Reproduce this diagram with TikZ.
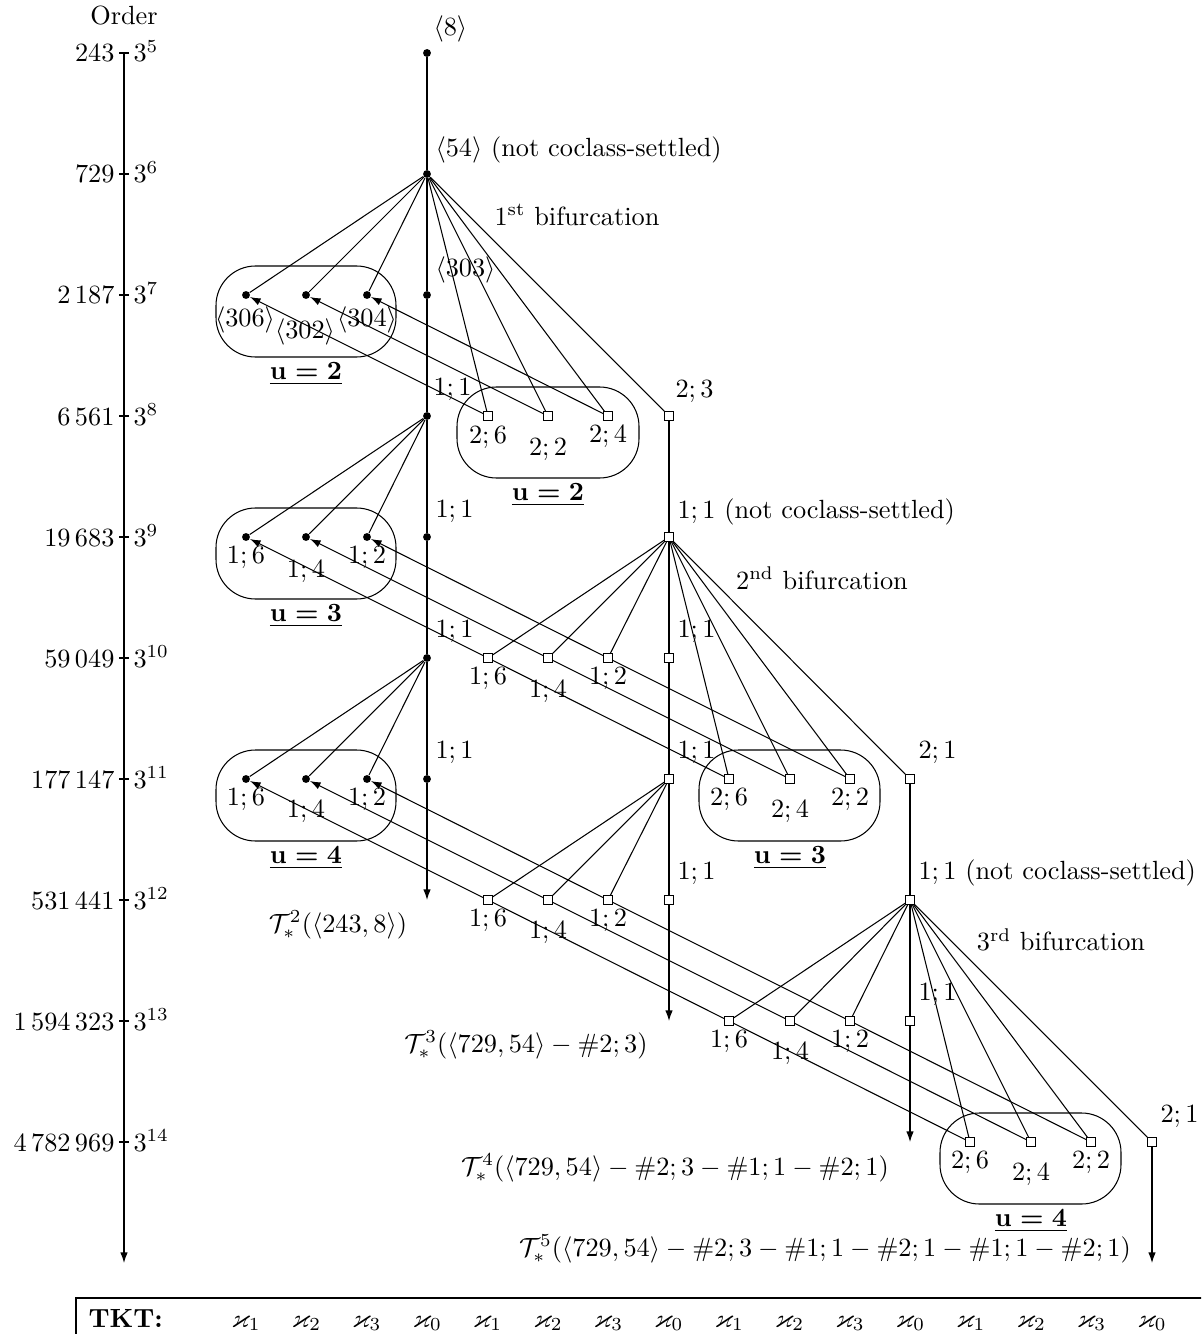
\documentclass[tikz,border=0pt]{standalone}
\usepackage{amsmath,amssymb}
\usetikzlibrary{arrows.meta}
\newcommand{\ulabel}[1]{$\underline{\boldsymbol{\mathbf{u}=\mathbf{#1}}}$}
\begin{document}
\begin{tikzpicture}[x=0.38pt,y=-0.38pt,
  dot/.style={circle,fill,inner sep=0pt,minimum size=3pt},
  sq/.style={draw,rectangle,inner sep=0pt,minimum size=3.2pt},
  arr/.style={-{Latex[length=4pt,width=2.8pt]}},
  lab/.style={anchor=west,inner sep=0pt},
  clab/.style={inner sep=0pt},
  grp/.style={draw,rounded corners=15pt},
  ax/.style={inner sep=0pt}]
\clip (0,0) rectangle (1201,1334);
% axis
\coordinate (axtop) at (124,53);
\coordinate (axbot) at (124,1263);
\draw[arr] (axtop) -- (axbot);
\node[ax] (order) at (124,16) {Order};
\foreach \k/\n in {5/243,6/729,7/2\,187,8/6\,561,9/19\,683,10/59\,049,11/177\,147,12/531\,441,13/1\,594\,323,14/4\,782\,969}{
  \pgfmathsetmacro{\yy}{53+121*(\k-5)}
  \draw (119,\yy) -- (129,\yy);
  \node[ax,anchor=base east] at (115,\yy+9) {$\n$};
  \node[ax,anchor=base west] at (133,\yy+9) {$3^{\k}$};
}
% groups
\draw[grp] (216,266) rectangle (396,357);
\draw[grp] (457,387) rectangle (639,478);
\draw[grp] (216,508) rectangle (396,599);
\draw[grp] (699,750) rectangle (880,841);
\draw[grp] (216,750) rectangle (396,841);
\draw[grp] (940,1113) rectangle (1121,1204);
% trunk
\node[dot] (t5) at (427,53) {};
\node[dot] (t6) at (427,174) {};
\node[dot] (t7) at (427,295) {};
\node[dot] (t8) at (427,416) {};
\node[dot] (t9) at (427,537) {};
\node[dot] (t10) at (427,658) {};
\node[dot] (t11) at (427,779) {};
\coordinate (t12) at (427,900);
% first tree twigs
\node[dot] (a7a) at (246,295) {};
\node[dot] (a7b) at (306,295) {};
\node[dot] (a7c) at (367,295) {};
\node[dot] (a9a) at (246,537) {};
\node[dot] (a9b) at (306,537) {};
\node[dot] (a9c) at (367,537) {};
\node[dot] (a11a) at (246,779) {};
\node[dot] (a11b) at (306,779) {};
\node[dot] (a11c) at (367,779) {};
% second tree
\node[sq] (b8a) at (488,416) {};
\node[sq] (b8b) at (548,416) {};
\node[sq] (b8c) at (608,416) {};
\node[sq] (B8) at (669,416) {};
\node[sq] (B9) at (669,537) {};
\node[sq] (b10a) at (488,658) {};
\node[sq] (b10b) at (548,658) {};
\node[sq] (b10c) at (608,658) {};
\node[sq] (B10) at (669,658) {};
\node[sq] (B11) at (669,779) {};
\node[sq] (b12a) at (488,900) {};
\node[sq] (b12b) at (548,900) {};
\node[sq] (b12c) at (608,900) {};
\node[sq] (B12) at (669,900) {};
\coordinate (B13) at (669,1021);
% third tree
\node[sq] (c11a) at (729,779) {};
\node[sq] (c11b) at (790,779) {};
\node[sq] (c11c) at (850,779) {};
\node[sq] (C11) at (910,779) {};
\node[sq] (C12) at (910,900) {};
\node[sq] (c13a) at (729,1021) {};
\node[sq] (c13b) at (790,1021) {};
\node[sq] (c13c) at (850,1021) {};
\node[sq] (C13) at (910,1021) {};
\coordinate (C14) at (910,1142);
% fourth tree
\node[sq] (d14a) at (970,1142) {};
\node[sq] (d14b) at (1031,1142) {};
\node[sq] (d14c) at (1091,1142) {};
\node[sq] (D14) at (1152,1142) {};
\coordinate (D15) at (1152,1263);
% edges
\draw (t5) -- (t6);
\foreach \c in {a7a,a7b,a7c,t7,b8a,b8b,b8c,B8} \draw (t6) -- (\c);
\draw (t7) -- (t8);
\foreach \c in {a9a,a9b,a9c,t9} \draw (t8) -- (\c);
\draw (t9) -- (t10);
\foreach \c in {a11a,a11b,a11c,t11} \draw (t10) -- (\c);
\draw[arr] (t11) -- (t12);
\draw (B8) -- (B9);
\foreach \c in {b10a,b10b,b10c,B10,c11a,c11b,c11c,C11} \draw (B9) -- (\c);
\draw (B10) -- (B11);
\foreach \c in {b12a,b12b,b12c,B12} \draw (B11) -- (\c);
\draw[arr] (B12) -- (B13);
\draw (C11) -- (C12);
\foreach \c in {c13a,c13b,c13c,C13,d14a,d14b,d14c,D14} \draw (C12) -- (\c);
\draw[arr] (C13) -- (C14);
\draw[arr] (D14) -- (D15);
% periodicity arrows
\draw[arr] (b8a) -- (a7a);
\draw[arr] (b8b) -- (a7b);
\draw[arr] (b8c) -- (a7c);
\draw[arr] (b10a) -- (a9a);
\draw[arr] (b10b) -- (a9b);
\draw[arr] (b10c) -- (a9c);
\draw (c11a) -- (b10a);
\draw (c11b) -- (b10b);
\draw (c11c) -- (b10c);
\draw[arr] (b12a) -- (a11a);
\draw[arr] (b12b) -- (a11b);
\draw[arr] (b12c) -- (a11c);
\draw (c13a) -- (b12a);
\draw (c13b) -- (b12b);
\draw (c13c) -- (b12c);
\draw (d14a) -- (c13a);
\draw (d14b) -- (c13b);
\draw (d14c) -- (c13c);
% labels
\node[lab] at (433,29) {$\langle 8\rangle$};
\node[lab] at (435,150) {$\langle 54\rangle$ (not coclass-settled)};
\node[clab] at (577,215) {1\textsuperscript{st} bifurcation};
\node[lab] at (435,270) {$\langle 303\rangle$};
\node[clab] at (245,320) {$\langle 306\rangle$};
\node[clab] at (305,332) {$\langle 302\rangle$};
\node[clab] at (367,320) {$\langle 304\rangle$};
\node[lab] at (433,390) {$1;1$};
\node[lab] at (675,392) {$2;3$};
\node[clab] at (488,438) {$2;6$};
\node[clab] at (548,450) {$2;2$};
\node[clab] at (608,437) {$2;4$};
\node[lab] at (435,512) {$1;1$};
\node[lab] at (677,512) {$1;1$ (not coclass-settled)};
\node[clab] at (246,558) {$1;6$};
\node[clab] at (306,572) {$1;4$};
\node[clab] at (367,558) {$1;2$};
\node[clab] at (822,578) {2\textsuperscript{nd} bifurcation};
\node[lab] at (435,632) {$1;1$};
\node[lab] at (677,632) {$1;1$};
\node[clab] at (488,679) {$1;6$};
\node[clab] at (548,692) {$1;4$};
\node[clab] at (608,679) {$1;2$};
\node[lab] at (435,753) {$1;1$};
\node[lab] at (677,753) {$1;1$};
\node[lab] at (918,753) {$2;1$};
\node[clab] at (246,800) {$1;6$};
\node[clab] at (306,812) {$1;4$};
\node[clab] at (367,800) {$1;2$};
\node[clab] at (729,800) {$2;6$};
\node[clab] at (790,812) {$2;4$};
\node[clab] at (850,800) {$2;2$};
\node[lab] at (677,874) {$1;1$};
\node[lab] at (918,873) {$1;1$ (not coclass-settled)};
\node[clab] at (488,921) {$1;6$};
\node[clab] at (548,933) {$1;4$};
\node[clab] at (608,921) {$1;2$};
\node[clab] at (1061,940) {3\textsuperscript{rd} bifurcation};
\node[lab] at (918,995) {$1;1$};
\node[clab] at (729,1042) {$1;6$};
\node[clab] at (790,1054) {$1;4$};
\node[clab] at (850,1042) {$1;2$};
\node[lab] at (1160,1117) {$2;1$};
\node[clab] at (970,1163) {$2;6$};
\node[clab] at (1031,1175) {$2;4$};
\node[clab] at (1091,1163) {$2;2$};
% u labels
\node[clab] at (306,374) {\ulabel{2}};
\node[clab] at (548,495) {\ulabel{2}};
\node[clab] at (306,616) {\ulabel{3}};
\node[clab] at (790,858) {\ulabel{3}};
\node[clab] at (306,858) {\ulabel{4}};
\node[clab] at (1031,1221) {\ulabel{4}};
% tree names
\node[clab] at (338,925) {$\mathcal{T}^2_*(\langle 243,8\rangle)$};
\node[clab] at (526,1045) {$\mathcal{T}^3_*(\langle 729,54\rangle-\#2;3)$};
\node[clab] at (675,1168) {$\mathcal{T}^4_*(\langle 729,54\rangle-\#2;3-\#1;1-\#2;1)$};
\node[clab] at (825,1249) {$\mathcal{T}^5_*(\langle 729,54\rangle-\#2;3-\#1;1-\#2;1-\#1;1-\#2;1)$};
% TKT
\draw (76,1298) rectangle (1260,1400);
\node[ax,anchor=base west] at (88,1327) {\textbf{TKT:}};
\foreach \i/\s in {0/1,1/2,2/3,3/0,4/1,5/2,6/3,7/0,8/1,9/2,10/3,11/0,12/1,13/2,14/3,15/0}
  \node[ax,anchor=base] at (246+60.4*\i,1327) {$\varkappa_{\s}$};
\end{tikzpicture}
\end{document}
